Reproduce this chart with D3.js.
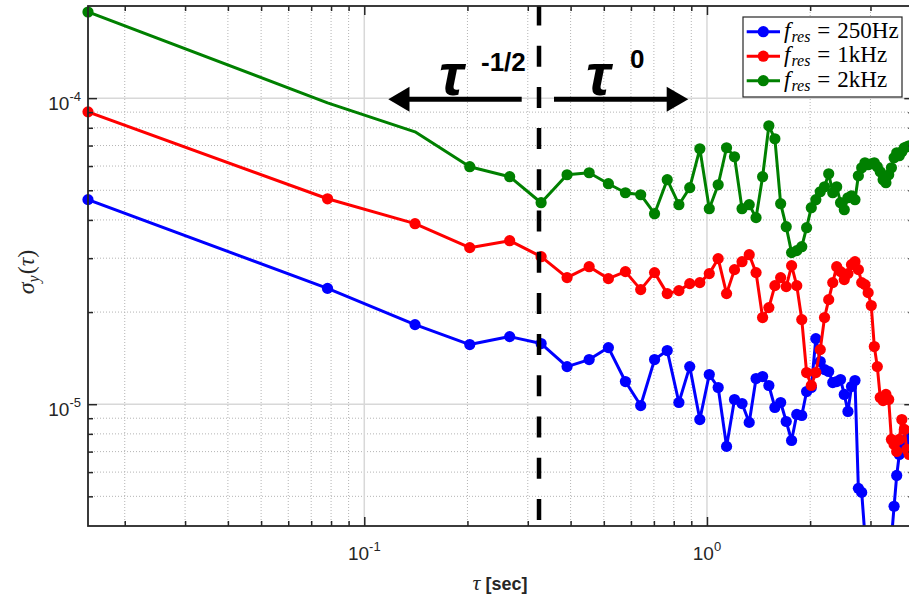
<!DOCTYPE html>
<html><head><meta charset="utf-8">
<script src="https://cdn.jsdelivr.net/npm/d3@7"></script>
<style>body{margin:0;background:#fff}svg{display:block}</style>
</head><body>
<svg id="c" width="909" height="601"></svg>
<script>
// ---------------- data ----------------
const UNIT = 1e-5;
const tau = [0.015625,0.078125,0.140625,0.203125,0.265625,0.328125,0.390625,0.453125,0.515625,0.578125,
  0.640625,0.703125,0.765625,0.828125,0.890625,0.953125,1.015625,1.078125,1.140625,1.203125,
  1.265625,1.328125,1.390625,1.453125,1.515625,1.578125,1.640625,1.703125,1.765625,1.828125,
  1.890625,1.953125,2.015625,2.078125,2.140625,2.203125,2.265625,2.328125,2.390625,2.453125,
  2.515625,2.578125,2.640625,2.703125,2.765625,2.828125,2.890625,2.953125,3.015625,3.078125,
  3.140625,3.203125,3.265625,3.328125,3.390625,3.453125,3.515625,3.578125,3.640625,3.703125,
  3.765625,3.828125,3.890625];
const sigma250Hz = [4.66,2.39,1.82,1.566,1.663,1.578,1.327,1.399,1.531,1.186,
  0.990,1.399,1.497,1.013,1.327,0.891,1.250,1.134,0.728,1.036,
  1.005,0.872,1.213,1.231,1.151,0.976,1.013,0.878,0.761,0.926,
  0.919,1.100,1.134,1.638,1.378,1.298,1.279,1.177,1.186,1.204,
  1.076,0.947,1.142,1.195,0.531,0.515,0.370,0.32,0.30,0.28,
  0.30,0.31,0.29,0.30,0.33,0.362,0.464,0.585,0.685,0.750,
  0.739,0.767,0.779];
const sigma1kHz = [9.02,4.69,3.889,3.247,3.422,3.034,2.592,2.814,2.572,2.711,
  2.368,2.691,2.298,2.350,2.477,2.496,2.671,2.989,2.298,2.752,
  2.922,3.080,2.691,1.919,2.068,2.440,2.592,2.422,2.836,2.440,
  1.890,1.269,1.151,1.269,1.508,1.919,2.196,2.496,2.814,2.711,
  2.553,2.671,2.857,2.922,2.752,2.496,2.458,2.315,2.100,1.543,
  1.327,1.052,1.028,1.076,1.036,0.767,0.739,0.701,0.767,0.891,
  0.827,0.712,0.685];
const sigma2kHz = [19.12,9.65,7.76,5.969,5.537,4.553,5.620,5.705,5.253,4.908,
  4.835,4.193,5.413,4.485,5.098,6.832,4.352,5.212,6.884,6.434,
  4.352,4.485,4.069,5.537,8.121,7.366,4.519,3.802,3.128,3.175,
  3.271,3.773,4.385,4.657,4.945,5.135,5.662,4.908,5.135,4.553,
  4.319,4.727,4.798,4.657,5.578,5.924,6.150,6.058,6.104,6.150,
  5.969,5.748,5.413,5.292,5.620,5.924,6.386,6.631,6.482,6.680,
  6.884,6.935,6.987];
const noMarker2kHz = [1, 2];
const seriesLabels = ["250Hz", "1kHz", "2kHz"];
const seriesColors = ["#0000ff", "#ff0000", "#008000"];
const xMajorTicks = [0.1, 1];
const xTickExp = ["-1", "0"];
const yMajorTicks = [1e-5, 1e-4];
const yTickExp = ["-5", "-4"];
const boundaryTau = 0.3235;
const slopeLeft = "-1/2", slopeRight = "0";

// ---------------- layout ----------------
const L = 88, T = 6, B = 526, R = 913.3;
const x = d3.scaleLog().domain([1/64, 4]).range([L, R]);
const y = d3.scaleLog().domain([4e-6, 2e-4]).range([B, T]);
const svg = d3.select("#c");
const axisCol = "#262626";
const sans = "'Liberation Sans', Arial, sans-serif";
const serif = "'Liberation Serif', 'Times New Roman', serif";

svg.append("defs").append("clipPath").attr("id","pc")
  .append("rect").attr("x",L).attr("y",T).attr("width",R-L).attr("height",B-T);

const isMajor = v => Math.abs(Math.log10(v) - Math.round(Math.log10(v))) < 1e-9;
const xAll = x.ticks().filter(v => v > x.domain()[0] * 1.0001 && v < x.domain()[1] * 0.9999);
const yAll = y.ticks().filter(v => v > y.domain()[0] * 1.0001 && v < y.domain()[1] * 0.9999);
const xMinor = xAll.filter(v => !isMajor(v));
const yMinor = yAll.filter(v => !isMajor(v));

// grid
const g = svg.append("g");
g.selectAll(".xmg").data(xMinor).join("line")
  .attr("x1", d => x(d)).attr("x2", d => x(d)).attr("y1", T).attr("y2", B)
  .attr("stroke", "#b4b4b4").attr("stroke-width", 1).attr("stroke-dasharray", "1,2");
g.selectAll(".ymg").data(yMinor).join("line")
  .attr("y1", d => y(d)).attr("y2", d => y(d)).attr("x1", L).attr("x2", R)
  .attr("stroke", "#b4b4b4").attr("stroke-width", 1).attr("stroke-dasharray", "1,2");
g.selectAll(".xMg").data(xMajorTicks).join("line")
  .attr("x1", d => x(d)).attr("x2", d => x(d)).attr("y1", T).attr("y2", B)
  .attr("stroke", "#d8d8d8").attr("stroke-width", 1.5);
g.selectAll(".yMg").data(yMajorTicks).join("line")
  .attr("y1", d => y(d)).attr("y2", d => y(d)).attr("x1", L).attr("x2", R)
  .attr("stroke", "#d8d8d8").attr("stroke-width", 1.5);

// data
const series = [sigma250Hz, sigma1kHz, sigma2kHz].map((arr, i) => ({
  color: seriesColors[i],
  pts: arr.map((v, k) => ({t: tau[k], v: v * UNIT, k}))
}));
const line = d3.line().x(d => x(d.t)).y(d => y(d.v));
const dataG = svg.append("g");
series.forEach((s, i) => {
  dataG.append("path").attr("d", line(s.pts)).attr("fill", "none")
    .attr("stroke", s.color).attr("stroke-width", 3).attr("stroke-linejoin", "round")
    .attr("clip-path", "url(#pc)");
  const mk = s.pts.filter(p => p.v >= y.domain()[0] && p.v <= y.domain()[1] && !(i === 2 && noMarker2kHz.includes(p.k)));
  dataG.selectAll(null).data(mk).join("circle")
    .attr("cx", d => x(d.t)).attr("cy", d => y(d.v)).attr("r", 5.6).attr("fill", s.color);
});

// dashed boundary
svg.append("line").attr("x1", x(boundaryTau)).attr("x2", x(boundaryTau)).attr("y1", T).attr("y2", B)
  .attr("stroke", "#000").attr("stroke-width", 4.5).attr("stroke-dasharray", "21,20.2").attr("stroke-dashoffset", 1.5);

// arrows
const ay = 99.3;
svg.append("line").attr("x1", 405).attr("x2", 521.7).attr("y1", ay).attr("y2", ay).attr("stroke","#000").attr("stroke-width",5);
svg.append("path").attr("d", `M388.3,${ay} L409.5,${ay-12.5} L409.5,${ay+12.5} Z`).attr("fill","#000");
svg.append("line").attr("x1", 554).attr("x2", 670).attr("y1", ay).attr("y2", ay).attr("stroke","#000").attr("stroke-width",5);
svg.append("path").attr("d", `M688.3,${ay} L666.7,${ay-12.5} L666.7,${ay+12.5} Z`).attr("fill","#000");

const ann1 = svg.append("text").attr("font-family", sans).attr("font-weight","bold").attr("fill","#000");
ann1.append("tspan").attr("x", 439).attr("y", 95).attr("font-size", 60).attr("font-style","italic").text("τ");
ann1.append("tspan").attr("x", 481).attr("y", 71).attr("font-size", 26).text(slopeLeft);
const ann2 = svg.append("text").attr("font-family", sans).attr("font-weight","bold").attr("fill","#000");
ann2.append("tspan").attr("x", 586).attr("y", 95).attr("font-size", 60).attr("font-style","italic").text("τ");
ann2.append("tspan").attr("x", 630).attr("y", 68).attr("font-size", 26).text(slopeRight);

// axes (ticks inward)
const axG = svg.append("g");
function drawAxis(gen, tx, ty) {
  const a = axG.append("g").attr("transform", `translate(${tx},${ty})`).call(gen);
  a.select(".domain").remove();
  a.selectAll(".tick line").attr("stroke", axisCol).attr("stroke-width", 1.5);
  a.selectAll(".tick text").remove();
}
drawAxis(d3.axisBottom(x).tickValues(xMajorTicks).tickSize(-9), 0, B);
drawAxis(d3.axisBottom(x).tickValues(xMinor).tickSize(-5), 0, B);
drawAxis(d3.axisTop(x).tickValues(xMajorTicks).tickSize(-9), 0, T);
drawAxis(d3.axisTop(x).tickValues(xMinor).tickSize(-5), 0, T);
drawAxis(d3.axisLeft(y).tickValues(yMajorTicks).tickSize(-9), L, 0);
drawAxis(d3.axisLeft(y).tickValues(yMinor).tickSize(-5), L, 0);
drawAxis(d3.axisRight(y).tickValues(yMajorTicks).tickSize(-9), R, 0);
drawAxis(d3.axisRight(y).tickValues(yMinor).tickSize(-5), R, 0);
axG.append("rect").attr("x", L).attr("y", T).attr("width", R - L).attr("height", B - T)
  .attr("fill", "none").attr("stroke", axisCol).attr("stroke-width", 1.8);

// tick labels
xMajorTicks.forEach((v, i) => {
  const t = svg.append("text").attr("x", x(v)).attr("y", 560).attr("text-anchor", "middle")
    .attr("font-family", sans).attr("font-size", 19).attr("fill", axisCol);
  t.append("tspan").text("10");
  t.append("tspan").attr("font-size", 13).attr("dy", -9).text(xTickExp[i]);
});
yMajorTicks.forEach((v, i) => {
  const t = svg.append("text").attr("x", 81).attr("y", y(v) + 12).attr("text-anchor", "end")
    .attr("font-family", sans).attr("font-size", 19).attr("fill", axisCol);
  t.append("tspan").text("10");
  t.append("tspan").attr("font-size", 13).attr("dy", -9).text(yTickExp[i]);
});

// axis titles
const xl = svg.append("text").attr("x", 500).attr("y", 590).attr("text-anchor", "middle").attr("fill", axisCol);
xl.append("tspan").attr("font-family", serif).attr("font-style", "italic").attr("font-size", 22).text("τ");
xl.append("tspan").attr("font-family", sans).attr("font-weight", "bold").attr("font-size", 18).attr("dx", 5).text("[sec]");

const yl = svg.append("text").attr("transform", `translate(34,${(T + B) / 2 + 6}) rotate(-90)`)
  .attr("text-anchor", "middle").attr("font-family", serif).attr("font-size", 24).attr("fill", axisCol);
yl.append("tspan").attr("font-style", "italic").text("σ");
yl.append("tspan").attr("font-style", "italic").attr("font-size", 16).attr("dy", 5).text("y");
yl.append("tspan").attr("dy", -5).attr("dx", 1).text("(");
yl.append("tspan").attr("font-style", "italic").text("τ");
yl.append("tspan").text(")");

// legend
const lg = svg.append("g");
lg.append("rect").attr("x", 743).attr("y", 17).attr("width", 159).attr("height", 80)
  .attr("fill", "#fff").attr("stroke", axisCol).attr("stroke-width", 1.2);
seriesLabels.forEach((lab, i) => {
  const yy = 31.7 + i * 24.5;
  lg.append("line").attr("x1", 746.7).attr("x2", 780).attr("y1", yy).attr("y2", yy)
    .attr("stroke", seriesColors[i]).attr("stroke-width", 3);
  lg.append("circle").attr("cx", 763.3).attr("cy", yy).attr("r", 5.6).attr("fill", seriesColors[i]);
  const t = lg.append("text").attr("x", 784).attr("y", yy + 6).attr("font-family", serif).attr("font-size", 23).attr("fill", "#000");
  t.append("tspan").attr("font-style", "italic").text("f");
  t.append("tspan").attr("font-style", "italic").attr("font-size", 16).attr("dy", 4).attr("dx", 1).text("res");
  t.append("tspan").attr("dy", -4).attr("dx", 7).text("=");
  t.append("tspan").attr("dx", 7).text(lab);
});
</script>
</body></html>
